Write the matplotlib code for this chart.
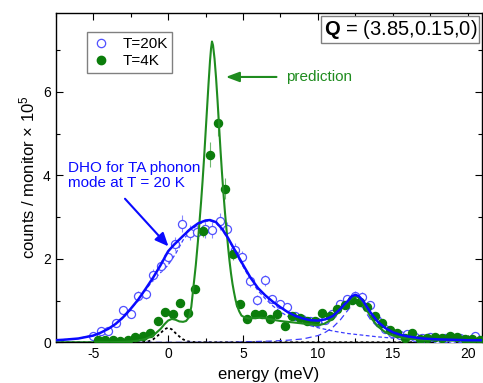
import matplotlib
matplotlib.use("Agg")
import matplotlib.pyplot as plt
from matplotlib.lines import Line2D

plt.rcParams['font.family'] = ['Liberation Sans', 'DejaVu Sans']
plt.rcParams['mathtext.fontset'] = 'custom'
plt.rcParams['mathtext.rm'] = 'Liberation Sans'
plt.rcParams['mathtext.it'] = 'Liberation Sans:italic'
plt.rcParams['mathtext.bf'] = 'Liberation Sans:bold'

# ---- data: T = 20 K (open circles) ----
e20 = [-5.0, -4.5, -4.0, -3.5, -3.0, -2.5, -2.0, -1.5, -1.0, -0.5, 0.0, 0.45, 0.95, 1.45,
       1.95, 2.45, 2.95, 3.45, 3.95, 4.45, 4.95, 5.45, 5.95, 6.45, 6.95, 7.45, 7.95, 8.45,
       8.95, 9.45, 9.95, 10.45, 10.95, 11.45, 11.95, 12.45, 12.95, 13.45, 13.95, 14.45,
       14.95, 15.45, 15.95, 16.45, 16.95, 17.45, 17.95, 18.45, 18.95, 19.45, 19.95, 20.45]
i20 = [0.15, 0.28, 0.28, 0.46, 0.78, 0.68, 1.12, 1.16, 1.61, 1.83, 2.04, 2.36, 2.84, 2.63,
       2.64, 2.71, 2.69, 2.90, 2.71, 2.21, 2.04, 1.46, 1.01, 1.49, 1.03, 0.92, 0.85, 0.62,
       0.55, 0.52, 0.49, 0.53, 0.68, 0.91, 1.03, 1.12, 1.09, 0.89, 0.53, 0.31,
       0.22, 0.18, 0.20, 0.12, 0.10, 0.12, 0.07, 0.10, 0.07, 0.10, 0.05, 0.14]
err20 = [0.06, 0.07, 0.07, 0.08, 0.10, 0.10, 0.12, 0.12, 0.14, 0.15, 0.16, 0.17, 0.20, 0.18,
         0.18, 0.20, 0.20, 0.20, 0.18, 0.16, 0.15, 0.13, 0.12, 0.13, 0.10, 0.10, 0.10, 0.08,
         0.08, 0.08, 0.08, 0.08, 0.09, 0.10, 0.10, 0.11, 0.11, 0.10, 0.08, 0.06,
         0.05, 0.05, 0.05, 0.04, 0.04, 0.04, 0.04, 0.04, 0.04, 0.04, 0.03, 0.05]

# ---- data: T = 4 K (filled circles) ----
e4 = [-4.7, -4.2, -3.7, -3.2, -2.7, -2.2, -1.7, -1.2, -0.7, -0.2, 0.3, 0.8, 1.3, 1.8,
      2.3, 2.8, 3.3, 3.8, 4.3, 4.8, 5.3, 5.8, 6.3, 6.8, 7.3, 7.8, 8.3, 8.8, 9.3, 9.8,
      10.3, 10.8, 11.3, 11.8, 12.3, 12.8, 13.3, 13.8, 14.3, 14.8, 15.3, 15.8, 16.3, 16.8,
      17.3, 17.8, 18.3, 18.8, 19.3, 19.8, 20.3, 20.8]
i4 = [0.05, 0.05, 0.06, 0.03, 0.05, 0.12, 0.14, 0.22, 0.52, 0.73, 0.68, 0.94, 0.71, 1.27,
      2.67, 4.50, 5.25, 3.68, 2.12, 0.91, 0.55, 0.69, 0.69, 0.55, 0.67, 0.39, 0.63, 0.58,
      0.52, 0.50, 0.70, 0.62, 0.79, 0.89, 1.01, 0.97, 0.85, 0.64, 0.47, 0.30, 0.23, 0.10,
      0.22, 0.07, 0.10, 0.12, 0.10, 0.14, 0.12, 0.07, 0.08, 0.06]
err4 = [0.03, 0.03, 0.03, 0.03, 0.03, 0.03, 0.03, 0.04, 0.06, 0.07, 0.07, 0.08, 0.07, 0.10,
        0.15, 0.30, 0.30, 0.25, 0.15, 0.08, 0.06, 0.06, 0.06, 0.06, 0.06, 0.06, 0.06, 0.06,
        0.06, 0.06, 0.06, 0.06, 0.06, 0.07, 0.07, 0.07, 0.07, 0.06, 0.06, 0.05, 0.05, 0.04,
        0.04, 0.03, 0.03, 0.03, 0.03, 0.03, 0.03, 0.03, 0.03, 0.03]

# ---- fit curves ----
fit20_x = [-7.5, -7, -6, -5, -4.5, -4, -3.5, -3, -2.5, -2, -1.5, -1, -0.5, 0, 0.4, 1, 1.5, 2,
           2.5, 2.8, 3.2, 3.6, 4, 4.5, 5, 5.5, 6, 6.5, 7, 7.5, 8, 8.5, 9, 9.5, 10, 10.5, 11,
           11.5, 11.75, 12, 12.25, 12.5, 12.75, 13, 13.25, 13.5, 14, 14.5, 15, 15.5, 16, 17,
           18, 19, 20, 21]
fit20_y = [0.05, 0.06, 0.09, 0.16, 0.23, 0.32, 0.44, 0.60, 0.80, 1.02, 1.28, 1.55, 1.85, 2.18,
           2.34, 2.55, 2.72, 2.85, 2.92, 2.93, 2.88, 2.72, 2.50, 2.18, 1.86, 1.55, 1.30, 1.12,
           0.97, 0.84, 0.72, 0.63, 0.57, 0.53, 0.52, 0.55, 0.63, 0.80, 0.90, 0.99, 1.10, 1.14,
           1.10, 1.00, 0.86, 0.72, 0.49, 0.34, 0.24, 0.18, 0.14, 0.09, 0.07, 0.06, 0.05, 0.05]

dho_x = [-7.5, -6, -5, -4, -3, -2, -1.5, -1, -0.5, 0, 0.5, 1, 1.5, 2, 2.5, 2.8, 3.2, 3.6, 4,
         4.5, 5, 5.5, 6, 6.5, 7, 7.5, 8, 8.5, 9, 9.5, 10, 10.5, 11, 11.5, 12, 13, 14, 15, 16,
         18, 21]
dho_y = [0.05, 0.09, 0.17, 0.31, 0.58, 1.00, 1.25, 1.49, 1.67, 1.85, 2.12, 2.45, 2.68, 2.82,
         2.90, 2.91, 2.86, 2.70, 2.48, 2.15, 1.82, 1.50, 1.24, 1.04, 0.87, 0.73, 0.62, 0.53,
         0.46, 0.40, 0.35, 0.31, 0.27, 0.24, 0.21, 0.17, 0.13, 0.10, 0.08, 0.05, 0.03]

p2_x = [-7.5, 4, 5, 6, 7, 8, 9, 10, 10.5, 11, 11.5, 12, 12.25, 12.5, 12.75, 13, 13.5, 14,
        14.5, 15, 16, 17, 18, 21]
p2_y = [0.0, 0.0, 0.01, 0.02, 0.03, 0.05, 0.08, 0.16, 0.24, 0.36, 0.54, 0.77, 0.88, 0.94,
        0.90, 0.83, 0.55, 0.36, 0.24, 0.15, 0.07, 0.04, 0.02, 0.01]

el_x = [-7.5, -2, -1.5, -1.25, -1.0, -0.75, -0.5, -0.25, 0, 0.25, 0.5, 0.75, 1.0, 1.25, 1.5,
        2, 21]
el_y = [0.0, 0.0, 0.01, 0.03, 0.07, 0.14, 0.22, 0.31, 0.35, 0.31, 0.22, 0.14, 0.07, 0.03,
        0.01, 0.0, 0.0]

fit4_x = [-7.5, -4, -3, -2.5, -2, -1.5, -1, -0.5, -0.25, 0, 0.25, 0.5, 0.75, 1.0, 1.2, 1.4,
          1.55, 1.7, 1.85, 2.0, 2.1, 2.2, 2.3, 2.4, 2.5, 2.6, 2.7, 2.8, 2.87, 2.93, 3.0, 3.1,
          3.2, 3.3, 3.4, 3.5, 3.6, 3.7, 3.8, 3.9, 4.0, 4.1, 4.2, 4.3, 4.4, 4.5, 4.6, 4.75,
          4.9, 5.1, 5.4, 5.8, 6.2, 6.6, 7.0, 7.5, 8.0, 8.5, 9.0, 9.5, 10.0, 10.4, 10.8, 11.2,
          11.6, 12.0, 12.3, 12.5, 12.7, 13.0, 13.3, 13.6, 14.0, 14.5, 15.0, 15.5, 16, 17, 18,
          19, 21]
fit4_y = [0.0, 0.0, 0.01, 0.02, 0.04, 0.08, 0.16, 0.32, 0.43, 0.52, 0.56, 0.54, 0.50, 0.49,
          0.51, 0.60, 0.85, 1.35, 1.85, 2.45, 2.90, 3.35, 3.85, 4.40, 5.00, 5.60, 6.20, 6.75,
          7.05, 7.21, 7.12, 6.80, 6.35, 5.80, 5.20, 4.60, 4.05, 3.55, 3.10, 2.70, 2.30, 1.95,
          1.65, 1.40, 1.20, 1.02, 0.88, 0.74, 0.64, 0.60, 0.57, 0.58, 0.59, 0.57, 0.54, 0.51,
          0.49, 0.47, 0.45, 0.43, 0.41, 0.44, 0.52, 0.65, 0.82, 0.98, 1.07, 1.10, 1.08, 0.95,
          0.75, 0.56, 0.38, 0.24, 0.16, 0.12, 0.09, 0.06, 0.05, 0.04, 0.04]

BLUE = '#0a0aff'
LBLUE = '#5050ff'
GREEN = '#1f8c1f'
DGREEN = '#0b7d0b'

fig = plt.figure(figsize=(4.83, 3.83), dpi=100)
ax = fig.add_axes([0.1153, 0.1063, 0.882, 0.8605])

ax.plot(el_x, el_y, color='black', ls=(0, (1.5, 1.5)), lw=1.3, zorder=2)
ax.plot(p2_x, p2_y, color='#3c3cff', ls=(0, (5, 3)), lw=0.9, zorder=2)
ax.plot(dho_x, dho_y, color='#3c3cff', ls=(0, (3, 2)), lw=0.9, zorder=2)

ax.errorbar(e20, i20, yerr=err20, fmt='o', ms=5.8, mfc='white', mec=LBLUE, mew=0.9,
            ecolor='#8a8aff', elinewidth=0.8, capsize=0, zorder=3)
ax.errorbar(e4, i4, yerr=err4, fmt='o', ms=5.8, mfc=DGREEN, mec=DGREEN,
            ecolor='#6fb86f', elinewidth=0.8, capsize=0, zorder=4)
ax.plot(fit4_x, fit4_y, color=GREEN, lw=1.5, zorder=5)
ax.plot(fit20_x, fit20_y, color=BLUE, lw=1.8, zorder=6)

ax.set_xlim(-7.47, 20.93)
ax.set_ylim(0, 7.9)
ax.set_xticks([-5, 0, 5, 10, 15, 20])
ax.set_xticklabels(['-5', '0', '5', '10', '15', '20'])
ax.set_xticks([-7.5, -2.5, 2.5, 7.5, 12.5, 17.5], minor=True)
ax.set_yticks([0, 2, 4, 6])
ax.set_yticks([1, 3, 5, 7], minor=True)
ax.tick_params(which='both', direction='in', top=True, right=True, labelsize=10,
               width=0.8, colors='black')
ax.tick_params(which='major', length=5)
ax.tick_params(which='minor', length=3)
for s in ax.spines.values():
    s.set_linewidth(1.0)

ax.set_xlabel('energy (meV)', fontsize=12, labelpad=4)
ax.set_ylabel('counts / monitor $\\times$ 10$^5$', fontsize=12, labelpad=4)

handles = [Line2D([], [], ls='none', marker='o', ms=6, mfc='white', mec=LBLUE, mew=0.9),
           Line2D([], [], ls='none', marker='o', ms=6, mfc=DGREEN, mec=DGREEN)]
leg = ax.legend(handles, ['T=20K', 'T=4K'], loc='upper left', bbox_to_anchor=(0.074, 0.9405),
                borderaxespad=0, fancybox=False, edgecolor='#808080', fontsize=11,
                handlelength=1.2, handletextpad=0.8, borderpad=0.3, labelspacing=0.2,
                framealpha=1)
leg.get_frame().set_linewidth(1.0)

ax.text(0.989, 0.984, '$\\mathbf{Q}$ = (3.85,0.15,0)', transform=ax.transAxes,
        ha='right', va='top', fontsize=14.5,
        bbox=dict(boxstyle='square,pad=0.12', fc='white', ec='#808080', lw=1.0))

ax.annotate('', xy=(3.67, 6.36), xytext=(7.42, 6.36),
            arrowprops=dict(arrowstyle='-|>,head_length=0.8,head_width=0.3', color=GREEN, lw=1.5))
ax.text(7.85, 6.36, 'prediction', color=GREEN, fontsize=11, va='center', ha='left')

ax.text(-6.65, 4.0, 'DHO for TA phonon\nmode at T = 20 K', color=BLUE, fontsize=11,
        ha='left', va='center', linespacing=1.15)
ax.annotate('', xy=(0.15, 2.25), xytext=(-3.0, 3.49),
            arrowprops=dict(arrowstyle='-|>,head_length=0.8,head_width=0.35', color=BLUE, lw=1.5))

fig.savefig('out.png', dpi=100)
